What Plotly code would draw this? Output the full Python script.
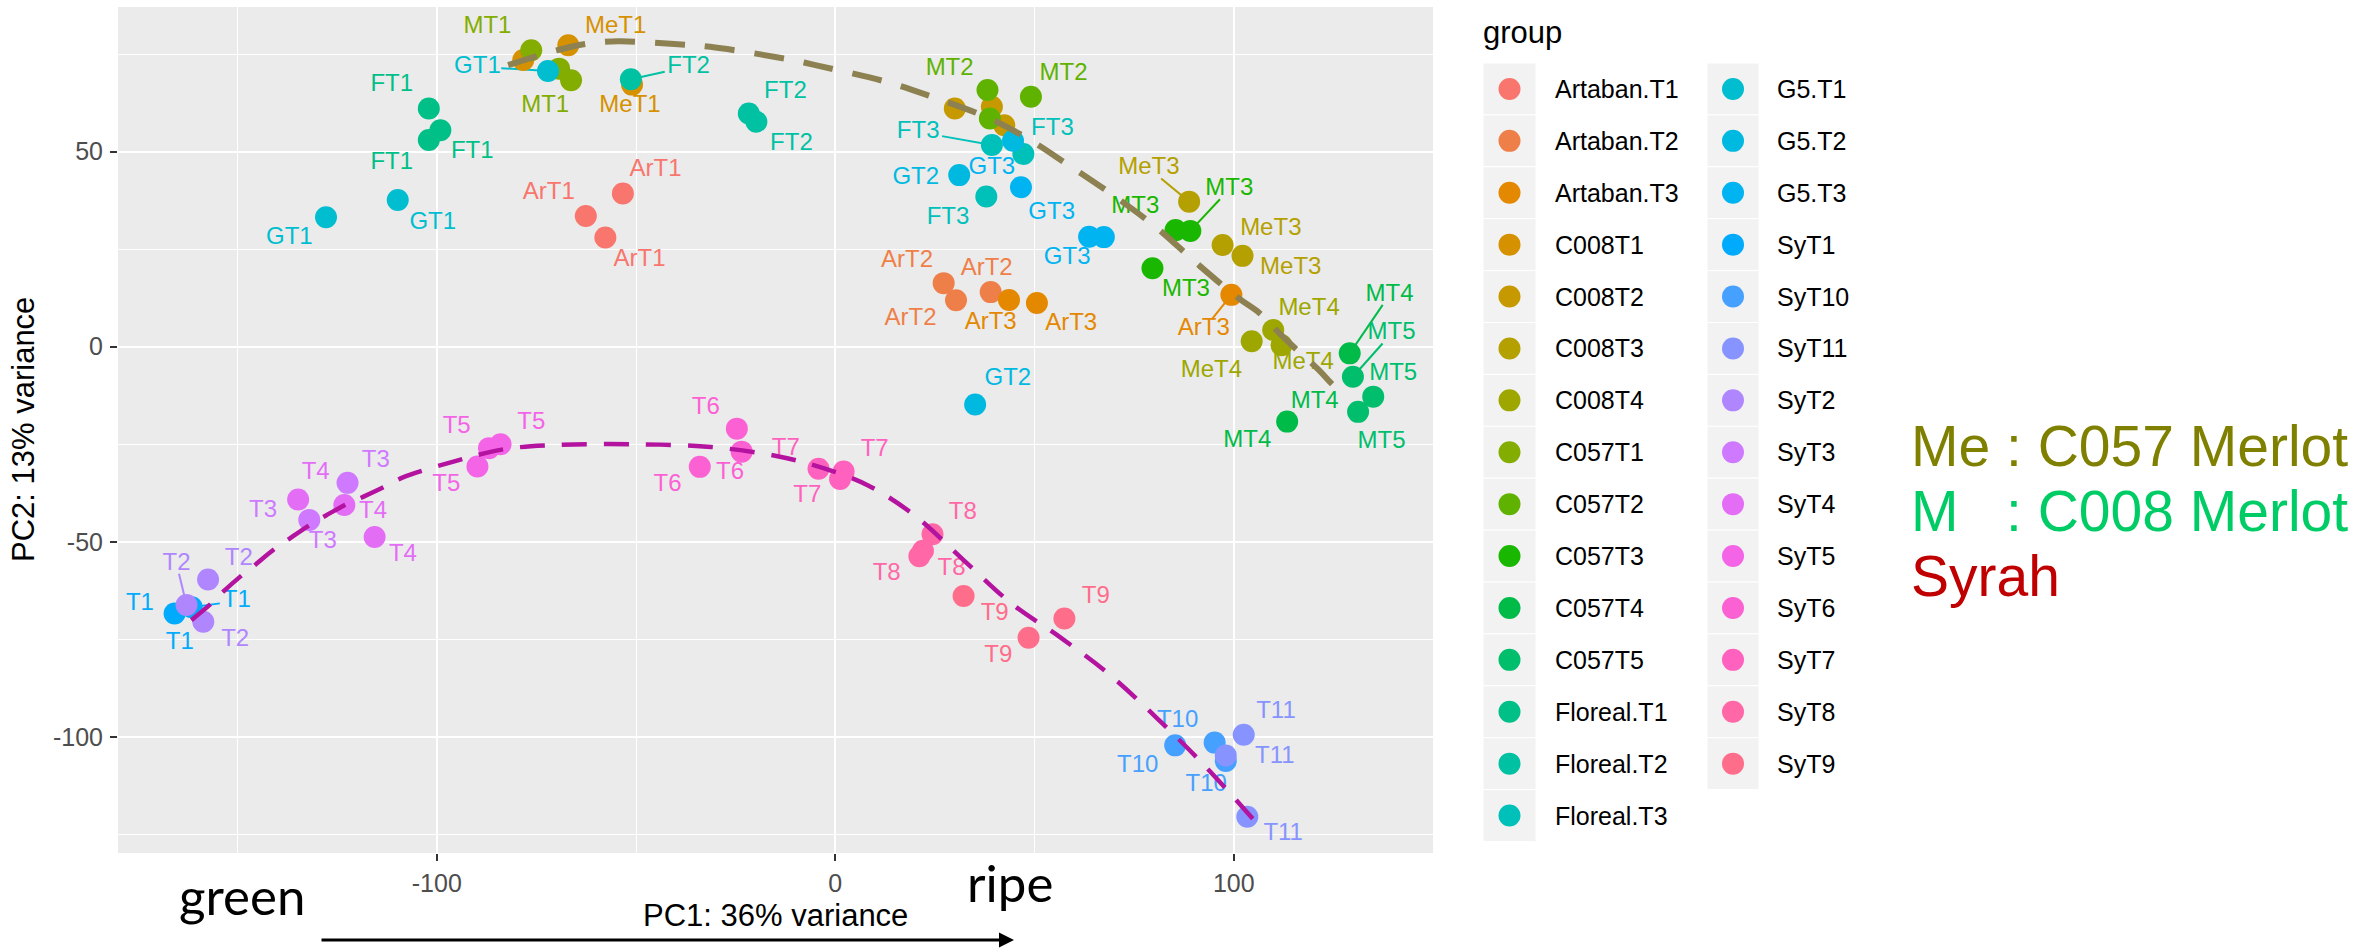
import math
import plotly.graph_objects as go

W, H = 2369, 952

# ---------------------------------------------------------------- data
groups = ["Artaban.T1", "Artaban.T2", "Artaban.T3", "C008T1", "C008T2", "C008T3",
          "C008T4", "C057T1", "C057T2", "C057T3", "C057T4", "C057T5", "Floreal.T1",
          "Floreal.T2", "Floreal.T3", "G5.T1", "G5.T2", "G5.T3", "SyT1", "SyT10",
          "SyT11", "SyT2", "SyT3", "SyT4", "SyT5", "SyT6", "SyT7", "SyT8", "SyT9"]

# PCA scores of each sample (PC1, PC2), in drawing order
pt_group = ["Artaban.T1"] * 3 + ["Artaban.T2"] * 3 + ["Artaban.T3"] * 3 + \
           ["C008T1"] * 3 + ["C008T2"] * 3 + ["C008T3"] * 3 + ["C008T4"] * 3 + \
           ["C057T1"] * 3 + ["C057T2"] * 3 + ["C057T3"] * 3 + ["C057T4"] * 2 + \
           ["C057T5"] * 3 + ["Floreal.T1"] * 3 + ["Floreal.T2"] * 3 + ["Floreal.T3"] * 3 + \
           ["G5.T1"] * 3 + ["G5.T2"] * 3 + ["G5.T3"] * 3 + ["SyT1"] * 2 + ["SyT10"] * 3 + \
           ["SyT11"] * 3 + ["SyT2"] * 3 + ["SyT4"] + ["SyT3"] * 2 + ["SyT4"] * 2 + \
           ["SyT5"] * 3 + ["SyT6"] * 3 + ["SyT7"] * 3 + ["SyT8"] * 3 + ["SyT9"] * 3
pt_x = [-53.3, -62.6, -57.7,   27.2, 30.3, 39.0,   43.6, 50.6, 99.4,
        -78.3, -67.0, -51.0,   30.0, 39.3, 42.4,   88.8, 97.2, 102.2,   104.5, 109.9, 112.0,
        -76.3, -69.3, -66.3,   38.2, 49.1, 38.8,   85.4, 89.1, 79.6,   129.1, 113.4,
        129.9, 135.0, 131.2,   -102.0, -99.1, -102.0,   -51.3, -21.7, -19.8,   39.3, 47.2, 37.9,
        -72.1, -109.8, -127.8,   31.1, 35.1, 44.6,   46.6, 63.7, 67.4,   -165.8, -161.5,
        85.3, 95.2, 98.0,   102.5, 98.0, 103.4,   -162.8, -157.4, -158.6,
        -134.8,   -122.4, -132.0,   -123.2, -115.6,
        -84.0, -86.9, -89.8,   -24.7, -23.5, -34.0,   -4.2, 2.1, 1.2,
        24.4, 21.1, 22.0,   32.2, 57.5, 48.5]
pt_y = [39.3, 33.5, 28.0,   16.3, 11.9, 14.0,   12.0, 11.2, 13.3,
        73.5, 77.3, 67.2,   61.1, 61.5, 56.8,   37.2, 26.1, 23.3,   1.4, 4.3, 0.4,
        76.0, 71.3, 68.3,   65.8, 64.1, 58.5,   29.9, 29.7, 20.1,   -1.7, -19.2,
        -7.7, -12.8, -16.7,   61.1, 55.5, 53.0,   68.6, 59.8, 57.7,   51.7, 49.4, 38.5,
        70.7, 37.6, 33.2,   44.0, -14.8, 52.8,   40.9, 28.2, 28.1,   -68.4, -66.8,
        -102.2, -101.5, -106.2,   -99.5, -104.8, -120.5,   -66.2, -59.7, -70.5,
        -39.2,   -34.9, -44.4,   -40.6, -48.8,
        -25.0, -26.0, -30.7,   -21.0, -26.9, -30.8,   -31.3, -32.0, -33.9,
        -48.1, -53.7, -52.3,   -63.9, -69.7, -74.6]

# sample labels; lab_link = which sample of that group the label is tied to (-1: none)
lab_text = ["ArT1", "ArT1", "ArT1", "ArT2", "ArT2", "ArT2", "ArT3", "ArT3", "ArT3",
            "MeT1", "MeT1", "MT1", "MT1", "GT1", "GT1", "GT1", "FT1", "FT1", "FT1",
            "FT2", "FT2", "FT2", "MT2", "MT2", "FT3", "FT3", "FT3", "GT2", "GT2",
            "GT3", "GT3", "GT3", "MeT3", "MeT3", "MeT3", "MT3", "MT3", "MT3",
            "MeT4", "MeT4", "MeT4", "MT4", "MT4", "MT4", "MT5", "MT5", "MT5",
            "T1", "T1", "T1", "T2", "T2", "T2", "T3", "T3", "T3", "T4", "T4", "T4",
            "T5", "T5", "T5", "T6", "T6", "T6", "T7", "T7", "T7", "T8", "T8", "T8",
            "T9", "T9", "T9", "T10", "T10", "T10", "T11", "T11", "T11"]
lab_group = ["Artaban.T1"] * 3 + ["Artaban.T2"] * 3 + ["Artaban.T3"] * 3 + \
            ["C008T1"] * 2 + ["C057T1"] * 2 + ["G5.T1"] * 3 + ["Floreal.T1"] * 3 + \
            ["Floreal.T2"] * 3 + ["C057T2"] * 2 + ["Floreal.T3"] * 3 + ["G5.T2"] * 2 + \
            ["G5.T3"] * 3 + ["C008T3"] * 3 + ["C057T3"] * 3 + ["C008T4"] * 3 + \
            ["C057T4"] * 3 + ["C057T5"] * 3 + ["SyT1"] * 3 + ["SyT2"] * 3 + \
            ["SyT3"] * 3 + ["SyT4"] * 3 + ["SyT5"] * 3 + ["SyT6"] * 3 + ["SyT7"] * 3 + \
            ["SyT8"] * 3 + ["SyT9"] * 3 + ["SyT10"] * 3 + ["SyT11"] * 3
lab_x = [-45.1, -71.9, -49.1,   18.0, 38.0, 18.9,   39.0, 59.2, 92.5,
         -55.1, -51.5,   -87.3, -72.8,   -89.8, -101.0, -137.0,   -111.3, -91.1, -111.3,
         -36.8, -12.5, -11.0,   28.7, 57.3,   20.8, 54.5, 28.3,   20.2, 43.3,
         39.3, 54.3, 58.2,   78.7, 109.3, 114.3,   98.9, 75.3, 88.0,
         118.9, 94.4, 117.4,   139.1, 120.3, 103.4,   139.6, 140.0, 137.1,
         -174.5, -150.2, -164.5,   -165.3, -149.7, -150.6,   -115.3, -143.6, -128.6,
         -130.4, -116.0, -108.5,   -95.0, -76.3, -97.6,   -32.5, -26.4, -42.1,
         -12.4, 9.9, -7.0,   32.0, 12.9, 29.2,   65.4, 40.0, 40.9,
         85.9, 75.9, 93.1,   110.6, 110.3, 112.4]
lab_y = [45.3, 39.5, 22.3,   22.1, 20.0, 7.1,   6.2, 5.9, 4.5,
         82.0, 61.7,   82.0, 61.7,   71.8, 31.8, 27.8,   67.1, 50.0, 47.2,
         71.8, 65.3, 52.0,   71.3, 70.0,   55.1, 55.7, 32.9,   43.2, -8.4,
         45.7, 34.4, 22.7,   45.7, 30.1, 20.1,   40.4, 35.8, 14.6,
         9.6, -6.1, -4.1,   13.3, -14.1, -24.2,   3.4, -7.0, -24.4,
         -66.0, -65.2, -76.0,   -55.6, -54.3, -75.3,   -29.4, -42.0, -50.0,
         -32.3, -42.4, -53.3,   -20.7, -19.6, -35.5,   -15.7, -32.5, -35.5,
         -26.1, -26.6, -38.3,   -42.7, -58.2, -57.0,   -64.2, -68.6, -79.2,
         -95.9, -107.6, -112.3,   -93.6, -105.1, -125.0]
lab_link = [-1, -1, -1,  -1, -1, -1,  -1, -1, 2,
            -1, -1,  -1, -1,  0, -1, -1,  -1, -1, -1,
            0, -1, -1,  -1, -1,  0, -1, -1,  -1, -1,
            -1, -1, -1,  0, -1, -1,  1, -1, -1,
            -1, -1, -1,  0, -1, -1,  0, -1, -1,
            -1, 1, -1,  0, -1, -1,  -1, -1, -1,  -1, -1, -1,
            -1, -1, -1,  -1, -1, -1,  -1, -1, -1,  -1, -1, -1,
            -1, -1, -1,  -1, -1, -1,  -1, -1, -1]

# ripening trend for the two Merlot clones
merlot_x = [-82.1, -69.9, -62.2, -54.5, -40.4, -31.4, -10.8, -5.0, 12.9, 24.2, 38.8,
            48.9, 57.9, 69.1, 80.3, 91.6, 101.1, 106.5, 111.5, 115.4, 121.2, 124.9, 128.5]
merlot_y = [72.2, 76.0, 77.7, 78.3, 77.6, 76.9, 73.5, 72.2, 67.9, 64.1, 58.5,
            53.0, 47.0, 39.3, 30.8, 20.6, 12.5, 8.6, 3.4, -0.4, -5.8, -9.8, -12.8]
# ripening trend for Syrah
syrah_x = [-161.6, -157.0, -153.6, -149.4, -145.7, -140.9, -137.1, -131.9, -127.7,
           -122.7, -118.5, -113.1, -108.5, -95.6, -82.7, -69.8, -50.5, -31.2, -14.8,
           -4.0, 8.1, 20.1, 32.2, 44.3, 56.3, 68.4, 80.5, 92.5, 105.8]
syrah_y = [-70.1, -66.2, -62.8, -59.0, -56.0, -52.0, -49.3, -45.7, -43.2,
           -40.4, -38.5, -35.9, -33.5, -29.4, -26.2, -25.2, -25.0, -25.7, -28.0,
           -30.8, -35.5, -43.4, -54.7, -65.9, -74.4, -83.7, -95.0, -107.2, -122.2]

x_tickvals = [-100, 0, 100]
x_ticktext = ["-100", "0", "100"]
y_tickvals = [-100, -50, 0, 50]
y_ticktext = ["-100", "-50", "0", "50"]


# ---------------------------------------------------------------- colours
def hcl_hex(h, c=100.0, l=65.0):
    """Polar LUV -> sRGB hex, same conversion as R's grDevices::hcl."""
    WX, WY, WZ = 95.047, 100.0, 108.883
    hr = math.radians(h)
    U, V = c * math.cos(hr), c * math.sin(hr)
    Y = WY * ((l + 16.0) / 116.0) ** 3
    t = WX + WY + WZ
    xn, yn = WX / t, WY / t
    un = 2 * xn / (6 * yn - xn + 1.5)
    vn = 4.5 * yn / (6 * yn - xn + 1.5)
    u = U / (13 * l) + un
    v = V / (13 * l) + vn
    X = 9.0 * Y * u / (4 * v)
    Z = -X / 3.0 - 5.0 * Y + 3.0 * Y / v

    def gam(val):
        val = val / WY
        val = 1.055 * val ** (1 / 2.4) - 0.055 if val > 0.00304 else 12.92 * val
        return max(0, min(255, int(255 * val + 0.5)))

    r = gam(3.240479 * X - 1.537150 * Y - 0.498535 * Z)
    g = gam(-0.969256 * X + 1.875992 * Y + 0.041556 * Z)
    b = gam(0.055648 * X - 0.204043 * Y + 1.057311 * Z)
    return "#%02X%02X%02X" % (r, g, b)


n = len(groups)
palette = {g: hcl_hex(15 + i * 360.0 / n) for i, g in enumerate(groups)}

# ---------------------------------------------------------------- geometry
PANEL_L, PANEL_R, PANEL_T, PANEL_B = 118, 1433, 7, 853
X_RANGE = [-180.0, 150.0]
Y_RANGE = [-129.8, 87.1]
sx = (PANEL_R - PANEL_L) / (X_RANGE[1] - X_RANGE[0])
sy = (PANEL_B - PANEL_T) / (Y_RANGE[1] - Y_RANGE[0])


def fx(px):
    return px / W


def fy(py):
    return 1 - py / H


TXT = "Liberation Sans, Arial, Helvetica, sans-serif"
LAB_SIZE = 24
MARK_SIZE = 22

fig = go.Figure()

# label leader segments (under the points)
seen = {}
pt_index = []
for g in pt_group:
    pt_index.append(seen.get(g, 0))
    seen[g] = seen.get(g, 0) + 1


def sample_of(group, k):
    for i, g in enumerate(pt_group):
        if g == group and pt_index[i] == k:
            return pt_x[i], pt_y[i]
    return None


for t, g, lx, ly, k in zip(lab_text, lab_group, lab_x, lab_y, lab_link):
    if k < 0:
        continue
    px, py = sample_of(g, k)
    dxp, dyp = (px - lx) * sx, (py - ly) * sy
    hw = 0.29 * LAB_SIZE * len(t) + 3
    hh = 0.42 * LAB_SIZE
    s = min(hw / abs(dxp) if dxp else 1e9, hh / abs(dyp) if dyp else 1e9)
    x0, y0 = lx + (px - lx) * s, ly + (py - ly) * s
    fig.add_trace(go.Scatter(x=[x0, px], y=[y0, py], mode="lines",
                             line=dict(color=palette[g], width=2),
                             showlegend=False, hoverinfo="skip"))

# samples
fig.add_trace(go.Scatter(
    x=pt_x, y=pt_y, mode="markers",
    marker=dict(size=MARK_SIZE, color=[palette[g] for g in pt_group], line=dict(width=0)),
    text=pt_group, hovertemplate="%{text}<br>PC1 %{x}<br>PC2 %{y}<extra></extra>",
    showlegend=False))

# sample labels
fig.add_trace(go.Scatter(
    x=lab_x, y=lab_y, mode="text", text=lab_text, textposition="middle center",
    textfont=dict(size=LAB_SIZE, family=TXT, color=[palette[g] for g in lab_group]),
    showlegend=False, hoverinfo="skip"))

# trend curves
fig.add_trace(go.Scatter(x=merlot_x, y=merlot_y, mode="lines",
                         line=dict(color="#8D8152", width=6, dash="30px,20px", shape="spline"),
                         showlegend=False, hoverinfo="skip"))
fig.add_trace(go.Scatter(x=syrah_x, y=syrah_y, mode="lines",
                         line=dict(color="#B3139E", width=4.5, dash="25px,17px", shape="spline"),
                         showlegend=False, hoverinfo="skip"))

axis_common = dict(
    showgrid=True, gridcolor="white", gridwidth=2.2,
    zeroline=False, showline=False,
    ticks="outside", ticklen=7, tickwidth=1.8, tickcolor="#333333",
    tickfont=dict(size=25, color="#4D4D4D", family=TXT),
    fixedrange=True,
)
fig.update_layout(
    width=W, height=H, autosize=False,
    margin=dict(l=0, r=0, t=0, b=0),
    paper_bgcolor="white", plot_bgcolor="#EBEBEB",
    showlegend=False,
    xaxis=dict(domain=[fx(PANEL_L), fx(PANEL_R)], range=X_RANGE,
               tickmode="array", tickvals=x_tickvals, ticktext=x_ticktext,
               ticklabelstandoff=1,
               minor=dict(tickmode="array", tickvals=[-150, -50, 50, 150], ticks="",
                          showgrid=True, gridcolor="white", gridwidth=1.1),
               **axis_common),
    yaxis=dict(domain=[fy(PANEL_B), fy(PANEL_T)], range=Y_RANGE,
               tickmode="array", tickvals=y_tickvals, ticktext=y_ticktext,
               ticklabelstandoff=2,
               minor=dict(tickmode="array", tickvals=[-125, -75, -25, 25, 75], ticks="",
                          showgrid=True, gridcolor="white", gridwidth=1.1),
               **axis_common),
)

annotations = []
shapes = []

# axis titles
annotations.append(dict(text="PC1: 36% variance", x=fx((PANEL_L + PANEL_R) / 2), y=fy(915),
                        xref="paper", yref="paper", xanchor="center", yanchor="middle",
                        showarrow=False, font=dict(size=31, color="black", family=TXT)))
annotations.append(dict(text="PC2: 13% variance", x=fx(24), y=fy((PANEL_T + PANEL_B) / 2),
                        xref="paper", yref="paper", xanchor="center", yanchor="middle",
                        showarrow=False, textangle=-90,
                        font=dict(size=31, color="black", family=TXT)))

# legend: two columns of keys
annotations.append(dict(text="group", x=fx(1481), y=fy(33), xref="paper", yref="paper",
                        xanchor="left", yanchor="middle", showarrow=False,
                        font=dict(size=31, color="black", family=TXT)))
KEY_TOP, KEY_H = 63, 51.9
columns = [(groups[:15], 1483, 1536, 1553), (groups[15:], 1707, 1759, 1775)]
for col_groups, bx0, bx1, tx in columns:
    cx = (bx0 + bx1) / 2
    for i, g in enumerate(col_groups):
        top = KEY_TOP + KEY_H * i
        shapes.append(dict(type="rect", xref="paper", yref="paper",
                           x0=fx(bx0), x1=fx(bx1), y0=fy(top + KEY_H), y1=fy(top),
                           fillcolor="#F2F2F2", line=dict(color="white", width=1), layer="above"))
        cy = top + KEY_H / 2
        r = MARK_SIZE / 2
        shapes.append(dict(type="circle", xref="paper", yref="paper",
                           x0=fx(cx - r), x1=fx(cx + r), y0=fy(cy + r), y1=fy(cy - r),
                           fillcolor=palette[g], line=dict(width=0), layer="above"))
        annotations.append(dict(text=g, x=fx(tx), y=fy(cy), xref="paper", yref="paper",
                                xanchor="left", yanchor="middle", showarrow=False,
                                font=dict(size=25, color="black", family=TXT)))

# cultivar key
BIG = 57
for prefix, rest, colour, yc in [("Me", ": C057 Merlot", "#808000", 446),
                                 ("M", ": C008 Merlot", "#00CC66", 511),
                                 ("Syrah", "", "#C00000", 576)]:
    annotations.append(dict(text=prefix, x=fx(1909), y=fy(yc), xref="paper", yref="paper",
                            xanchor="left", yanchor="middle", showarrow=False,
                            font=dict(size=BIG, color=colour, family=TXT)))
    if rest:
        annotations.append(dict(text=rest, x=fx(2004), y=fy(yc), xref="paper", yref="paper",
                                xanchor="left", yanchor="middle", showarrow=False,
                                font=dict(size=BIG, color=colour, family=TXT)))

# ripening direction
CAL = "Lato, Carlito, Calibri, sans-serif"
annotations.append(dict(text="green", x=fx(177), y=fy(895), xref="paper", yref="paper",
                        xanchor="left", yanchor="middle", showarrow=False,
                        font=dict(size=51, color="black", family=CAL)))
annotations.append(dict(text="ripe", x=fx(965), y=fy(882), xref="paper", yref="paper",
                        xanchor="left", yanchor="middle", showarrow=False,
                        font=dict(size=51, color="black", family=CAL)))
annotations.append(dict(text="", x=fx(1014), y=fy(940), xref="paper", yref="paper",
                        ax=-(1014 - 320), ay=0, showarrow=True,
                        arrowhead=2, arrowsize=1, arrowwidth=3, arrowcolor="black"))

fig.update_layout(annotations=annotations, shapes=shapes)
fig.write_html("out.html")
